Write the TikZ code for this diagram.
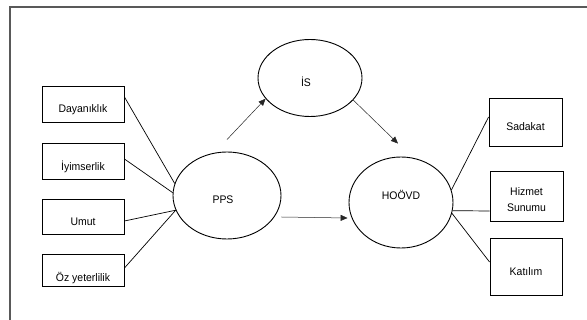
\documentclass[tikz,border=0pt]{standalone}
\usepackage{fontspec}
\setmainfont{Liberation Sans}[FakeStretch=0.95]
\usetikzlibrary{arrows.meta,shapes.geometric}
\begin{document}
\begin{tikzpicture}[x=1pt,y=-1pt,
  every node/.style={font=\fontsize{11}{16}\selectfont},
  box/.style={draw=black,line width=0.9pt,minimum width=#1,inner sep=0pt},
  oval/.style={draw=black,line width=0.9pt,ellipse,inner sep=0pt},
  lbl/.style={align=center,inner sep=0pt},
  link/.style={draw=black,line width=0.7pt},
  arr/.style={draw=black!85,line width=0.5pt,-{Triangle[length=7pt,width=6pt]}}]
\useasboundingbox (0,0) rectangle (587,320);
\draw[draw=black!65,line width=1.4pt] (10,320) -- (10,7) -- (587,7);
% left boxes
\node[box=82pt,minimum height=36pt,label={[lbl,yshift=-6pt]center:Dayanıklık}] (d) at (83,104) {};
\node[box=82pt,minimum height=36pt,label={[lbl,yshift=-6pt]center:İyimserlik}] (i) at (83,161) {};
\node[box=82pt,minimum height=35pt,label={[lbl,yshift=-5.5pt]center:Umut}] (u) at (83,216.5) {};
\node[box=82pt,minimum height=32pt,label={[lbl,yshift=-8pt]center:Öz yeterlilik}] (o) at (83,270) {};
% right boxes
\node[box=73pt,minimum height=48pt,label={[lbl,yshift=-5pt]center:Sadakat}] (s) at (525.5,122) {};
\node[box=73pt,minimum height=50pt,label={[lbl,yshift=-4pt]center:Hizmet\\Sunumu}] (h) at (526.5,196) {};
\node[box=72pt,minimum height=57pt,label={[lbl,yshift=-5.5pt]center:Katılım}] (k) at (526,266.5) {};
% ellipses
\node[oval,minimum width=108pt,minimum height=87pt,label={[lbl,xshift=-4pt,yshift=-4pt]center:PPS}] (pps) at (227,195.5) {};
\node[oval,minimum width=104pt,minimum height=77pt,label={[lbl,xshift=-4pt,yshift=-4pt]center:İS}] (is) at (310,78) {};
\node[oval,minimum width=104pt,minimum height=91pt,label={[lbl,yshift=8pt]center:HOÖVD}] (hoovd) at (401,202.5) {};
% indicator links
\draw[link] ([yshift=7pt]d.east) -- (pps.167);
\draw[link] ([yshift=2pt]i.east) -- (pps.177);
\draw[link] ([yshift=-4.5pt]u.east) -- (pps.196);
\draw[link] ([yshift=2pt]o.east) -- (pps.196);
\draw[link] (hoovd.14) -- ([yshift=5pt]s.west);
\draw[link] (hoovd.351) -- ([yshift=-15pt]h.west);
\draw[link] (hoovd.348) -- ([yshift=4.5pt]k.west);
% structural arrows
\draw[arr] ([yshift=12pt]pps.north) -- (is.205);
\draw[arr] (is.333) -- ([xshift=-3pt,yshift=13pt]hoovd.north);
\draw[arr] ([yshift=-21.5pt]pps.east) -- ([xshift=-1pt,yshift=-15.5pt]hoovd.west);
\end{tikzpicture}
\end{document}
